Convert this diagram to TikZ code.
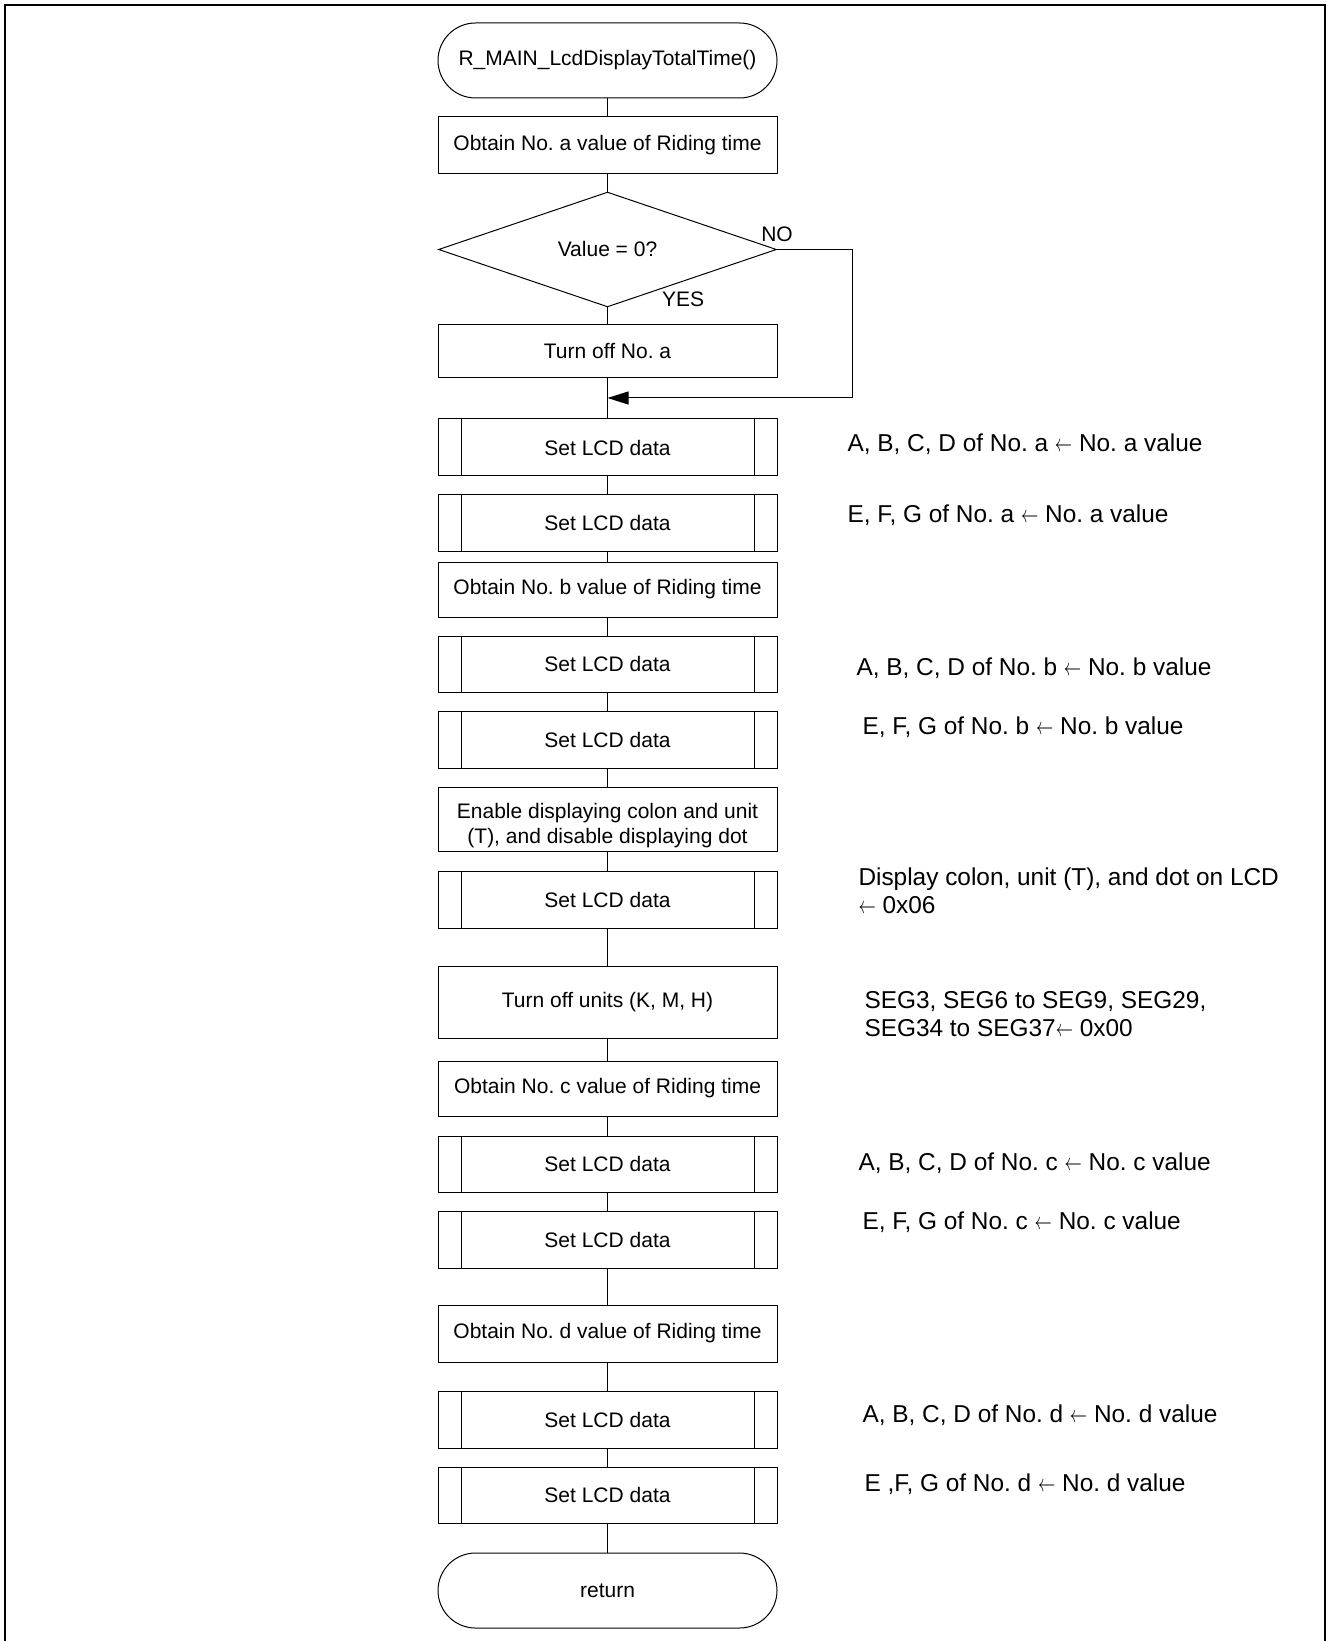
\documentclass[tikz,border=0pt]{standalone}
\usepackage{fontspec}
\usepackage{graphicx}
\setmainfont{Liberation Sans}
\frenchspacing
\usetikzlibrary{shapes.geometric,arrows.meta}
\newcommand{\larr}{\scalebox{0.72}[1]{$\leftarrow$}}
\begin{document}
\begin{tikzpicture}[x=0.5pt,y=-0.5pt,line width=0.5pt,
  boxfont/.style={font=\fontsize{10.5pt}{12.6pt}\selectfont},
  notefont/.style={font=\fontsize{12.2pt}{13.8pt}\selectfont},
  proc/.style={draw,rectangle,boxfont,minimum width=169.5pt,inner sep=0pt,align=center},
  sub/.style={proc,path picture={
     \draw ([xshift=11.5pt]path picture bounding box.north west) -- ([xshift=11.5pt]path picture bounding box.south west);
     \draw ([xshift=-11.5pt]path picture bounding box.north east) -- ([xshift=-11.5pt]path picture bounding box.south east);}},
  term/.style={proc,rounded corners=18.75pt,minimum height=37.5pt},
  dec/.style={draw,diamond,boxfont,minimum width=169pt,minimum height=56.5pt,inner sep=0pt},
  note/.style={notefont,anchor=west,align=left,inner sep=0pt},
  lbl/.style={boxfont,inner sep=0pt},
  flow/.style={draw},
  noarrow/.style={-{Triangle[length=10.5pt,width=6.5pt]}}
]
\useasboundingbox (0,0) rectangle (1328,1641);
\draw[line width=1pt] (5,1641) -- (5,5) -- (1325,5) -- (1325,1641);

\node[term] (start) at (607.5,60.5) {R\_MAIN\_LcdDisplayTotalTime()};
\node[proc,minimum height=28.5pt] (oa) at (607.5,145.5) {Obtain No. a value of Riding time};
\node[dec] (dia) at (607.5,249.5) {Value = 0?};
\node[proc,minimum height=26.5pt] (toff) at (607.5,351.5) {Turn off No. a};
\coordinate (m) at (607.5,398);
\coordinate (nc) at (852,398);
\node[sub,minimum height=28.5pt] (s1) at (607.5,447.5) {Set LCD data};
\node[sub,minimum height=28pt] (s2) at (607.5,523) {Set LCD data};
\node[proc,minimum height=27.5pt] (ob) at (607.5,589.5) {Obtain No. b value of Riding time};
\node[sub,minimum height=28pt] (s3) at (607.5,664) {Set LCD data};
\node[sub,minimum height=28.5pt] (s4) at (607.5,739.5) {Set LCD data};
\node[proc,minimum height=32pt] (en) at (607.5,819) {\raisebox{-6.3pt}[0pt][0pt]{\begin{tabular}{@{}c@{}}Enable displaying colon and unit\\[0.2pt](T), and disable displaying dot\end{tabular}}};
\node[sub,minimum height=28.5pt] (s5) at (607.5,899.5) {Set LCD data};
\node[proc,minimum height=36pt] (tu) at (607.5,1002) {Turn off units (K, M, H)};
\node[proc,minimum height=27.5pt] (oc) at (607.5,1088.5) {Obtain No. c value of Riding time};
\node[sub,minimum height=28pt] (s6) at (607.5,1164) {Set LCD data};
\node[sub,minimum height=28.5pt] (s7) at (607.5,1239.5) {Set LCD data};
\node[proc,minimum height=28.5pt] (od) at (607.5,1333.5) {Obtain No. d value of Riding time};
\node[sub,minimum height=28.5pt] (s8) at (607.5,1419.5) {Set LCD data};
\node[sub,minimum height=28pt] (s9) at (607.5,1495) {Set LCD data};
\node[term] (ret) at (607.5,1590.5) {return};

\node[lbl] (no) at (777,234) {NO};
\node[lbl] (yes) at (683,299.5) {YES};

\draw[flow] (start) -- (oa);
\draw[flow] (oa) -- (dia);
\draw[flow] (dia) -- (toff);
\draw[flow] (toff) -- (m) -- (s1);
\draw[flow,noarrow] (dia.east) -| (nc) -- (m);
\draw[flow] (s1) -- (s2);
\draw[flow] (s2) -- (ob);
\draw[flow] (ob) -- (s3);
\draw[flow] (s3) -- (s4);
\draw[flow] (s4) -- (en);
\draw[flow] (en) -- (s5);
\draw[flow] (s5) -- (tu);
\draw[flow] (tu) -- (oc);
\draw[flow] (oc) -- (s6);
\draw[flow] (s6) -- (s7);
\draw[flow] (s7) -- (od);
\draw[flow] (od) -- (s8);
\draw[flow] (s8) -- (s9);
\draw[flow] (s9) -- (ret);

\node[note] (n1) at (847,444) {A, B, C, D of No. a \larr{} No. a value};
\node[note] (n2) at (847,515) {E, F, G of No. a \larr{} No. a value};
\node[note] (n3) at (856,668) {A, B, C, D of No. b \larr{} No. b value};
\node[note] (n4) at (862,727) {E, F, G of No. b \larr{} No. b value};
\node[note] (n5) at (858,891) {Display colon, unit (T), and dot on LCD\\\larr{} 0x06};
\node[note] (n6) at (864,1014) {SEG3, SEG6 to SEG9, SEG29,\\SEG34 to SEG37\larr{} 0x00};
\node[note] (n7) at (858,1163) {A, B, C, D of No. c \larr{} No. c value};
\node[note] (n8) at (862,1222) {E, F, G of No. c \larr{} No. c value};
\node[note] (n9) at (862,1415) {A, B, C, D of No. d \larr{} No. d value};
\node[note] (n10) at (864,1484) {E ,F, G of No. d \larr{} No. d value};
\end{tikzpicture}
\end{document}
